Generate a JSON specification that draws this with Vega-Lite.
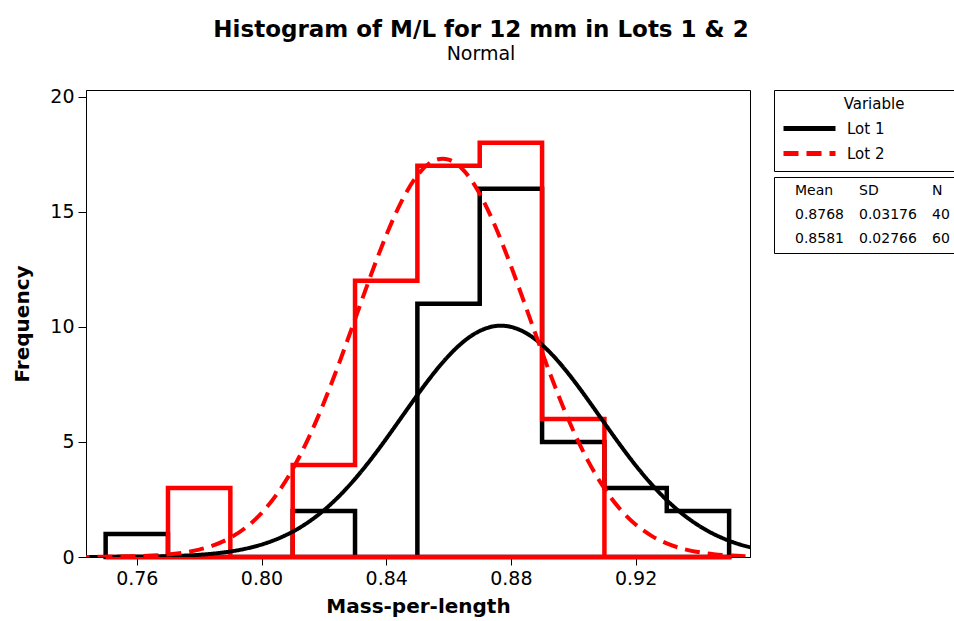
{
  "$schema": "https://vega.github.io/schema/vega-lite/v6.json",
  "width": 664,
  "height": 467,
  "autosize": "none",
  "padding": {"left": 86, "top": 90, "right": 204, "bottom": 64},
  "background": "white",
  "title": {
    "text": "Histogram of M/L for 12 mm in Lots 1 & 2",
    "subtitle": "Normal",
    "anchor": "middle",
    "dx": 63,
    "font": "DejaVu Sans",
    "fontSize": 23,
    "fontWeight": "bold",
    "color": "black",
    "subtitleFont": "DejaVu Sans",
    "subtitleFontSize": 19,
    "subtitleColor": "black",
    "subtitlePadding": 3,
    "offset": 24
  },
  "datasets": {
    "hist": [
      {"Lot": "Lot 1", "mass": 0.95, "freq": 0},
      {"Lot": "Lot 1", "mass": 0.75, "freq": 1},
      {"Lot": "Lot 1", "mass": 0.77, "freq": 0},
      {"Lot": "Lot 1", "mass": 0.79, "freq": 0},
      {"Lot": "Lot 1", "mass": 0.81, "freq": 2},
      {"Lot": "Lot 1", "mass": 0.83, "freq": 0},
      {"Lot": "Lot 1", "mass": 0.85, "freq": 11},
      {"Lot": "Lot 1", "mass": 0.87, "freq": 16},
      {"Lot": "Lot 1", "mass": 0.89, "freq": 5},
      {"Lot": "Lot 1", "mass": 0.91, "freq": 3},
      {"Lot": "Lot 1", "mass": 0.93, "freq": 2},
      {"Lot": "Lot 1", "mass": 0.95, "freq": 0},
      {"Lot": "Lot 2", "mass": 0.95, "freq": 0},
      {"Lot": "Lot 2", "mass": 0.75, "freq": 0},
      {"Lot": "Lot 2", "mass": 0.77, "freq": 3},
      {"Lot": "Lot 2", "mass": 0.79, "freq": 0},
      {"Lot": "Lot 2", "mass": 0.81, "freq": 4},
      {"Lot": "Lot 2", "mass": 0.83, "freq": 12},
      {"Lot": "Lot 2", "mass": 0.85, "freq": 17},
      {"Lot": "Lot 2", "mass": 0.87, "freq": 18},
      {"Lot": "Lot 2", "mass": 0.89, "freq": 6},
      {"Lot": "Lot 2", "mass": 0.91, "freq": 0},
      {"Lot": "Lot 2", "mass": 0.93, "freq": 0},
      {"Lot": "Lot 2", "mass": 0.95, "freq": 0}
    ],
    "curve": [
      {"Lot": "Lot 1", "mass": 0.740, "freq": 0.0009},
      {"Lot": "Lot 1", "mass": 0.745, "freq": 0.0018},
      {"Lot": "Lot 1", "mass": 0.750, "freq": 0.0035},
      {"Lot": "Lot 1", "mass": 0.755, "freq": 0.0064},
      {"Lot": "Lot 1", "mass": 0.760, "freq": 0.0116},
      {"Lot": "Lot 1", "mass": 0.765, "freq": 0.0205},
      {"Lot": "Lot 1", "mass": 0.770, "freq": 0.0352},
      {"Lot": "Lot 1", "mass": 0.775, "freq": 0.0590},
      {"Lot": "Lot 1", "mass": 0.780, "freq": 0.0966},
      {"Lot": "Lot 1", "mass": 0.785, "freq": 0.1543},
      {"Lot": "Lot 1", "mass": 0.790, "freq": 0.2401},
      {"Lot": "Lot 1", "mass": 0.795, "freq": 0.3645},
      {"Lot": "Lot 1", "mass": 0.800, "freq": 0.5398},
      {"Lot": "Lot 1", "mass": 0.805, "freq": 0.7807},
      {"Lot": "Lot 1", "mass": 0.810, "freq": 1.1004},
      {"Lot": "Lot 1", "mass": 0.815, "freq": 1.5133},
      {"Lot": "Lot 1", "mass": 0.820, "freq": 2.0309},
      {"Lot": "Lot 1", "mass": 0.825, "freq": 2.658},
      {"Lot": "Lot 1", "mass": 0.830, "freq": 3.394},
      {"Lot": "Lot 1", "mass": 0.835, "freq": 4.227},
      {"Lot": "Lot 1", "mass": 0.840, "freq": 5.136},
      {"Lot": "Lot 1", "mass": 0.845, "freq": 6.088},
      {"Lot": "Lot 1", "mass": 0.850, "freq": 7.039},
      {"Lot": "Lot 1", "mass": 0.855, "freq": 7.940},
      {"Lot": "Lot 1", "mass": 0.860, "freq": 8.737},
      {"Lot": "Lot 1", "mass": 0.865, "freq": 9.379},
      {"Lot": "Lot 1", "mass": 0.870, "freq": 9.821},
      {"Lot": "Lot 1", "mass": 0.875, "freq": 10.033},
      {"Lot": "Lot 1", "mass": 0.880, "freq": 9.998},
      {"Lot": "Lot 1", "mass": 0.885, "freq": 9.719},
      {"Lot": "Lot 1", "mass": 0.890, "freq": 9.218},
      {"Lot": "Lot 1", "mass": 0.895, "freq": 8.528},
      {"Lot": "Lot 1", "mass": 0.900, "freq": 7.696},
      {"Lot": "Lot 1", "mass": 0.905, "freq": 6.775},
      {"Lot": "Lot 1", "mass": 0.910, "freq": 5.819},
      {"Lot": "Lot 1", "mass": 0.915, "freq": 4.876},
      {"Lot": "Lot 1", "mass": 0.920, "freq": 3.984},
      {"Lot": "Lot 1", "mass": 0.925, "freq": 3.177},
      {"Lot": "Lot 1", "mass": 0.930, "freq": 2.471},
      {"Lot": "Lot 1", "mass": 0.935, "freq": 1.874},
      {"Lot": "Lot 1", "mass": 0.940, "freq": 1.388},
      {"Lot": "Lot 1", "mass": 0.945, "freq": 1.002},
      {"Lot": "Lot 1", "mass": 0.950, "freq": 0.7056},
      {"Lot": "Lot 1", "mass": 0.955, "freq": 0.4850},
      {"Lot": "Lot 1", "mass": 0.960, "freq": 0.3251},
      {"Lot": "Lot 2", "mass": 0.740, "freq": 0.0019},
      {"Lot": "Lot 2", "mass": 0.745, "freq": 0.0041},
      {"Lot": "Lot 2", "mass": 0.750, "freq": 0.0083},
      {"Lot": "Lot 2", "mass": 0.755, "freq": 0.0166},
      {"Lot": "Lot 2", "mass": 0.760, "freq": 0.0322},
      {"Lot": "Lot 2", "mass": 0.765, "freq": 0.0600},
      {"Lot": "Lot 2", "mass": 0.770, "freq": 0.1085},
      {"Lot": "Lot 2", "mass": 0.775, "freq": 0.1898},
      {"Lot": "Lot 2", "mass": 0.780, "freq": 0.3215},
      {"Lot": "Lot 2", "mass": 0.785, "freq": 0.5267},
      {"Lot": "Lot 2", "mass": 0.790, "freq": 0.8357},
      {"Lot": "Lot 2", "mass": 0.795, "freq": 1.2827},
      {"Lot": "Lot 2", "mass": 0.800, "freq": 1.9064},
      {"Lot": "Lot 2", "mass": 0.805, "freq": 2.7412},
      {"Lot": "Lot 2", "mass": 0.810, "freq": 3.8154},
      {"Lot": "Lot 2", "mass": 0.815, "freq": 5.1409},
      {"Lot": "Lot 2", "mass": 0.820, "freq": 6.7029},
      {"Lot": "Lot 2", "mass": 0.825, "freq": 8.4581},
      {"Lot": "Lot 2", "mass": 0.830, "freq": 10.330},
      {"Lot": "Lot 2", "mass": 0.835, "freq": 12.213},
      {"Lot": "Lot 2", "mass": 0.840, "freq": 13.972},
      {"Lot": "Lot 2", "mass": 0.845, "freq": 15.472},
      {"Lot": "Lot 2", "mass": 0.850, "freq": 16.581},
      {"Lot": "Lot 2", "mass": 0.855, "freq": 17.199},
      {"Lot": "Lot 2", "mass": 0.860, "freq": 17.267},
      {"Lot": "Lot 2", "mass": 0.865, "freq": 16.777},
      {"Lot": "Lot 2", "mass": 0.870, "freq": 15.778},
      {"Lot": "Lot 2", "mass": 0.875, "freq": 14.360},
      {"Lot": "Lot 2", "mass": 0.880, "freq": 12.650},
      {"Lot": "Lot 2", "mass": 0.885, "freq": 10.786},
      {"Lot": "Lot 2", "mass": 0.890, "freq": 8.901},
      {"Lot": "Lot 2", "mass": 0.895, "freq": 7.108},
      {"Lot": "Lot 2", "mass": 0.900, "freq": 5.495},
      {"Lot": "Lot 2", "mass": 0.905, "freq": 4.111},
      {"Lot": "Lot 2", "mass": 0.910, "freq": 2.977},
      {"Lot": "Lot 2", "mass": 0.915, "freq": 2.086},
      {"Lot": "Lot 2", "mass": 0.920, "freq": 1.415},
      {"Lot": "Lot 2", "mass": 0.925, "freq": 0.9287},
      {"Lot": "Lot 2", "mass": 0.930, "freq": 0.5902},
      {"Lot": "Lot 2", "mass": 0.935, "freq": 0.3630},
      {"Lot": "Lot 2", "mass": 0.940, "freq": 0.2160},
      {"Lot": "Lot 2", "mass": 0.945, "freq": 0.1244},
      {"Lot": "Lot 2", "mass": 0.950, "freq": 0.0694},
      {"Lot": "Lot 2", "mass": 0.955, "freq": 0.0374},
      {"Lot": "Lot 2", "mass": 0.960, "freq": 0.0196}
    ],
    "stats": [
      {"cell": "Mean"}, {"cell": "SD"}, {"cell": "N"},
      {"cell": "0.8768"}, {"cell": "0.03176"}, {"cell": "40"},
      {"cell": "0.8581"}, {"cell": "0.02766"}, {"cell": "60"}
    ]
  },
  "layer": [
    {
      "data": {"name": "hist"},
      "mark": {"type": "line", "interpolate": "step-after", "strokeWidth": 4.5, "strokeJoin": "miter", "strokeCap": "square"},
      "encoding": {
        "x": {"field": "mass", "type": "quantitative", "scale": {"domain": [0.7437, 0.9567], "nice": false, "zero": false},
          "axis": {"title": "Mass-per-length", "values": [0.76, 0.80, 0.84, 0.88, 0.92], "format": ".2f"}},
        "y": {"field": "freq", "type": "quantitative", "scale": {"domain": [0, 20.29], "nice": false},
          "axis": {"title": "Frequency", "values": [0, 5, 10, 15, 20]}},
        "color": {"field": "Lot", "type": "nominal", "scale": {"domain": ["Lot 1", "Lot 2"], "range": ["#000000", "#ff0000"]},
          "legend": {"title": "Variable"}},
        "order": {"value": null}
      }
    },
    {
      "data": {"name": "curve"},
      "mark": {"type": "line", "interpolate": "natural", "strokeWidth": 4, "clip": true},
      "encoding": {
        "x": {"field": "mass", "type": "quantitative"},
        "y": {"field": "freq", "type": "quantitative"},
        "color": {"field": "Lot", "type": "nominal", "legend": {"title": "Variable"}},
        "strokeDash": {"field": "Lot", "type": "nominal", "scale": {"domain": ["Lot 1", "Lot 2"], "range": [[1, 0], [15, 8]]},
          "legend": {"title": "Variable"}}
      }
    },
    {
      "data": {"name": "stats"},
      "mark": {"type": "point", "opacity": 0},
      "encoding": {
        "shape": {"field": "cell", "type": "nominal",
          "scale": {"domain": ["Mean", "0.8768", "0.8581", "SD", "0.03176", "0.02766", "N", "40", "60"]},
          "legend": {"title": null, "orient": "none", "legendX": 688, "legendY": 87, "columns": 3, "gridAlign": "each",
            "columnPadding": 1, "rowPadding": 10, "labelOffset": 0, "symbolSize": 0, "symbolOpacity": 0,
            "symbolType": "circle", "symbolStrokeWidth": 0, "labelFontSize": 14, "padding": 7}}
      }
    }
  ],
  "resolve": {"legend": {"shape": "independent"}},
  "config": {
    "font": "DejaVu Sans",
    "view": {"stroke": "black", "strokeWidth": 1},
    "axis": {
      "grid": false, "domainColor": "black", "tickColor": "black", "labelColor": "black", "titleColor": "black",
      "tickSize": 8, "labelFontSize": 19, "labelPadding": 4, "titleFontSize": 20, "titleFontWeight": "bold",
      "labelFont": "DejaVu Sans", "titleFont": "DejaVu Sans"
    },
    "axisX": {"titlePadding": 8},
    "axisY": {"titlePadding": 17},
    "legend": {
      "orient": "none", "legendX": 688, "legendY": 0,
      "symbolType": "M-1,0H9.4M33.5,0", "symbolSize": 100, "symbolStrokeWidth": 5,
      "labelFontSize": 15, "titleFontSize": 15, "titleFontWeight": "normal",
      "titleAnchor": "middle", "titleAlign": "center",
      "labelColor": "black", "titleColor": "black", "padding": 7, "strokeColor": "black",
      "titlePadding": 9, "rowPadding": 4, "labelOffset": 51
    }
  }
}
